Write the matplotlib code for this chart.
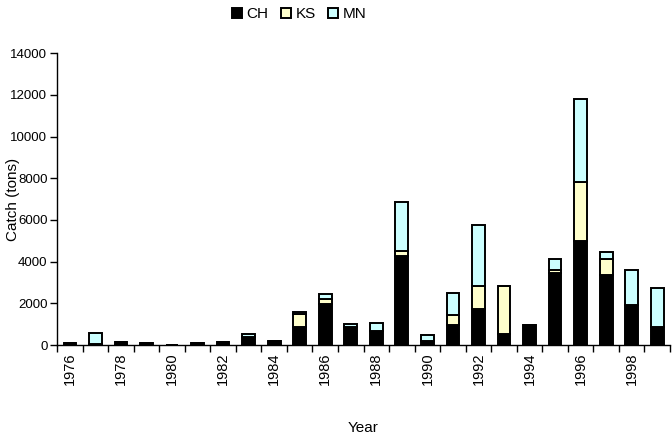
#!/usr/bin/env python3
"""Stacked bar chart of annual catch by area (CH, KS, MN), 1976-1999."""

import numpy as np
import matplotlib
matplotlib.use('Agg')
import matplotlib.pyplot as plt

years = list(range(1976, 2000))
ch = [100, 30, 170, 100, 0, 80, 150, 400, 200, 850, 1950, 850, 700, 4270,
      200, 960, 1730, 510, 960, 3450, 5000, 3350, 1920, 880]
ks = [0, 0, 0, 0, 0, 0, 0, 0, 0, 650, 250, 30, 0, 250,
      0, 480, 1100, 2330, 0, 150, 2800, 800, 0, 0]
mn = [0, 550, 0, 0, 0, 0, 0, 150, 0, 100, 250, 150, 350, 2350,
      300, 1040, 2920, 0, 0, 550, 4000, 300, 1660, 1870]
tick_labels = [str(y) if (y - 1976) % 2 == 0 else '' for y in years]

plt.rcParams['font.family'] = ['Liberation Sans', 'DejaVu Sans']

fig = plt.figure(figsize=(6.72, 4.43), dpi=100)
ax = fig.add_axes([0.085, 0.221, 0.912, 0.659])

x = np.arange(len(years))
ch = np.array(ch)
ks = np.array(ks)
mn = np.array(mn)
w = 0.5
ax.bar(x, ch, w, color='black', edgecolor='black', linewidth=1.4, label='CH')
ax.bar(x, ks, w, bottom=ch, color='#FFFFCC', edgecolor='black', linewidth=1.4, label='KS')
ax.bar(x, mn, w, bottom=ch + ks, color='#CCFFFF', edgecolor='black', linewidth=1.4, label='MN')

ax.set_xlim(-0.5, len(years) - 0.5)
ax.set_ylim(0, 14000)
ax.set_yticks(range(0, 14001, 2000))
ax.set_xticks(x)
ax.set_xticklabels(tick_labels, rotation=90)
ax.set_xticks(np.arange(-0.5, len(years), 1), minor=True)
ax.tick_params(axis='x', which='major', length=0, pad=5, labelsize=10.5)
ax.tick_params(axis='x', which='minor', length=5, width=1, direction='out')
ax.tick_params(axis='y', length=5, width=1, labelsize=9.5, pad=2)

for s in ['top', 'right']:
    ax.spines[s].set_visible(False)
ax.spines['left'].set_linewidth(1)
ax.spines['bottom'].set_linewidth(1)

ax.set_xlabel('Year', fontsize=11, labelpad=26)
ax.set_ylabel('Catch (tons)', fontsize=11)
ax.yaxis.set_label_coords(-0.060, 0.5)

fig.legend(loc='center', bbox_to_anchor=(0.445, 0.968), ncol=3, frameon=False,
           fontsize=11, handlelength=0.65, handleheight=0.65,
           handletextpad=0.3, columnspacing=0.8)

fig.savefig('out.png', dpi=100)
